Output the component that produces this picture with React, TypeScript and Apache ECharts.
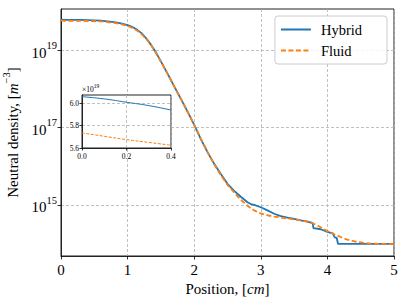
import React, { useEffect, useRef } from "react";
import * as echarts from "echarts";

// Position [cm] and neutral density [m^-3]
const HYBRID_X = [0, 0.1, 0.2, 0.3, 0.4, 0.6, 0.8, 0.9, 1.0, 1.05, 1.1, 1.15, 1.2, 1.25, 1.3, 1.35, 1.4, 1.45, 1.5, 1.6, 1.7, 1.8, 1.9, 2.0, 2.1, 2.2, 2.3, 2.4, 2.5, 2.6, 2.7, 2.8, 2.85, 2.9, 3.0, 3.1, 3.2, 3.3, 3.4, 3.5, 3.6, 3.7, 3.78, 3.79, 3.9, 4.0, 4.08, 4.11, 4.14, 4.16, 4.5, 5.0];
const HYBRID_N = [6.06e19, 6.04e19, 6.01e19, 5.98e19, 5.94e19, 5.75e19, 5.25e19, 4.9e19, 4.42e19, 4.07e19, 3.72e19, 3.27e19, 2.82e19, 2.29e19, 1.82e19, 1.38e19, 1.02e19, 7.3e18, 5.1e18, 2.45e18, 1.15e18, 5.5e17, 2.57e17, 1.17e17, 5.0e16, 2.3e16, 1.15e16, 6.3e15, 3.5e15, 2.3e15, 1.62e15, 1.17e15, 1.05e15, 1.0e15, 8.7e14, 7.2e14, 5.9e14, 5.1e14, 4.7e14, 4.35e14, 4.0e14, 3.7e14, 3.4e14, 2.5e14, 2.35e14, 2.0e14, 1.85e14, 1.45e14, 1.4e14, 9.8e13, 9.8e13, 9.8e13];

const FLUID_X = [0, 0.1, 0.2, 0.3, 0.4, 0.6, 0.8, 0.9, 1.0, 1.05, 1.1, 1.15, 1.2, 1.25, 1.3, 1.35, 1.4, 1.45, 1.5, 1.6, 1.7, 1.8, 1.9, 2.0, 2.1, 2.2, 2.3, 2.4, 2.5, 2.6, 2.7, 2.8, 2.9, 3.0, 3.1, 3.2, 3.4, 3.6, 3.74, 3.85, 3.94, 4.0, 4.1, 4.2, 4.3, 4.45, 4.65, 5.0];
const FLUID_N = [5.735e19, 5.705e19, 5.675e19, 5.65e19, 5.625e19, 5.5e19, 5.0e19, 4.68e19, 4.2e19, 3.88e19, 3.52e19, 3.1e19, 2.67e19, 2.2e19, 1.76e19, 1.34e19, 9.9e18, 7.1e18, 5.0e18, 2.42e18, 1.15e18, 5.5e17, 2.57e17, 1.17e17, 5.1e16, 2.35e16, 1.12e16, 5.9e15, 3.3e15, 2.1e15, 1.35e15, 9.5e14, 7.2e14, 6.0e14, 5.4e14, 5.0e14, 4.45e14, 4.0e14, 3.6e14, 2.95e14, 2.4e14, 2.1e14, 1.75e14, 1.48e14, 1.26e14, 1.1e14, 1.0e14, 9.7e13];

const X_TICKS = [0, 1, 2, 3, 4, 5];
const Y_TICK_EXPONENTS = [15, 17, 19];
const INSET_X_TICKS = [0, 0.2, 0.4];
const INSET_Y_TICKS = [5.6, 5.8, 6.0];
const INSET_SCALE_EXP = 19;
const SERIES_NAMES = ["Hybrid", "Fluid"];

const BLUE = "#1f77b4";
const ORANGE = "#ff7f0e";
const SERIF = "Liberation Serif";
const FS = 15;

export default function App() {
  const ref = useRef<HTMLDivElement>(null);
  useEffect(() => {
    if (!ref.current) return;
    const chart = echarts.init(ref.current, null, { renderer: "svg" });
    const hyb = HYBRID_X.map((x, i) => [x, Math.log10(HYBRID_N[i])]);
    const flu = FLUID_X.map((x, i) => [x, Math.log10(FLUID_N[i])]);
    const scale = Math.pow(10, INSET_SCALE_EXP);
    const insetMax = INSET_X_TICKS[INSET_X_TICKS.length - 1];
    const hybIn = HYBRID_X.map((x, i) => [x, HYBRID_N[i] / scale]).filter((p) => p[0] <= insetMax);
    const fluIn = FLUID_X.map((x, i) => [x, FLUID_N[i] / scale]).filter((p) => p[0] <= insetMax);

    const grid = { lineStyle: { color: "#b0b0b0", width: 0.8, type: [3, 2] as any } };
    const tick = { lineStyle: { color: "#000", width: 0.8 }, length: 3.5, inside: false };

    chart.setOption({
      animation: false,
      backgroundColor: "#fff",
      textStyle: { fontFamily: SERIF },
      grid: [
        { left: 61, right: 13, top: 9, bottom: 49, show: true, borderColor: "#222", borderWidth: 1, backgroundColor: "transparent", outerBoundsMode: "none", containLabel: false },
        { left: 82, top: 95, width: 89, height: 53, show: true, borderColor: "#222", borderWidth: 1, backgroundColor: "#fff", z: 10, outerBoundsMode: "none", containLabel: false },
      ],
      legend: {
        data: SERIES_NAMES,
        orient: "vertical",
        right: 20,
        top: 16,
        itemWidth: 30,
        itemHeight: 12,
        itemGap: 6,
        padding: [6, 25, 6, 5],
        backgroundColor: "rgba(255,255,255,0.85)",
        borderColor: "#ccc",
        borderWidth: 1,
        borderRadius: 3,
        itemStyle: { opacity: 0 },
        textStyle: { fontFamily: SERIF, fontSize: 14.5, color: "#000", padding: [0, 0, 0, 5] },
        z: 20,
      },
      xAxis: [
        {
          type: "value", gridIndex: 0, min: X_TICKS[0], max: X_TICKS[X_TICKS.length - 1], interval: 1,
          name: "Position, [{i|cm}]", nameLocation: "middle", nameGap: 24,
          nameTextStyle: { fontFamily: SERIF, fontSize: FS, color: "#000", rich: { i: { fontFamily: SERIF, fontSize: FS, fontStyle: "italic" } } },
          axisLine: { show: true, lineStyle: { color: "#222", width: 1 } },
          axisTick: tick,
          axisLabel: { fontFamily: SERIF, fontSize: FS, color: "#000", margin: 6 },
          splitLine: { show: true, ...grid },
        },
        {
          type: "value", gridIndex: 1, min: 0, max: insetMax, interval: 0.2, z: 11,
          axisLine: { show: true, lineStyle: { color: "#222", width: 1 } },
          axisTick: { ...tick, length: 2.5 },
          axisLabel: { fontFamily: SERIF, fontSize: 7.5, color: "#000", margin: 4, formatter: (v: number) => v.toFixed(1) },
          splitLine: { show: true, ...grid },
        },
      ],
      yAxis: [
        {
          type: "value", gridIndex: 0, min: 13.68, max: 20.06,
          name: "{n|Neutral density, [}{i|m}{s|−3}{n|]}", nameLocation: "middle", nameGap: 36, nameRotate: 90,
          nameTextStyle: {
            fontFamily: SERIF, fontSize: FS, color: "#000",
            rich: {
              n: { fontFamily: SERIF, fontSize: FS, lineHeight: 20, verticalAlign: "bottom" },
              i: { fontFamily: SERIF, fontSize: FS, fontStyle: "italic", lineHeight: 20, verticalAlign: "bottom" },
              s: { fontFamily: SERIF, fontSize: 10.5, lineHeight: 10, verticalAlign: "top" },
            },
          },
          axisLine: { show: true, lineStyle: { color: "#222", width: 1 } },
          axisTick: { ...tick, customValues: Y_TICK_EXPONENTS },
          axisLabel: {
            customValues: Y_TICK_EXPONENTS, margin: 4, color: "#000", fontFamily: SERIF,
            formatter: (v: number) => `{b|10}{s|${Math.round(v)}}`,
            rich: {
              b: { fontFamily: SERIF, fontSize: FS, lineHeight: 20, verticalAlign: "bottom" },
              s: { fontFamily: SERIF, fontSize: 10.5, lineHeight: 10, verticalAlign: "top" },
            },
          },
          splitLine: { show: true, ...grid },
        },
        {
          type: "value", gridIndex: 1, min: 5.6, max: 6.075, z: 11,
          axisLine: { show: true, lineStyle: { color: "#222", width: 1 } },
          axisTick: { ...tick, length: 2.5, customValues: INSET_Y_TICKS },
          axisLabel: { customValues: INSET_Y_TICKS, fontFamily: SERIF, fontSize: 7.5, color: "#000", margin: 3, formatter: (v: number) => v.toFixed(1) },
          splitLine: { show: true, ...grid },
        },
      ],
      graphic: [
        {
          type: "text", left: 82, top: 83, z: 30,
          style: {
            text: `{a|×10}{b|${INSET_SCALE_EXP}}`,
            rich: {
              a: { fontFamily: SERIF, fontSize: 7.5, fill: "#000", lineHeight: 10, verticalAlign: "bottom" },
              b: { fontFamily: SERIF, fontSize: 5.5, fill: "#000", lineHeight: 6, verticalAlign: "top" },
            },
          },
        },
      ],
      series: [
        { name: SERIES_NAMES[0], type: "line", xAxisIndex: 0, yAxisIndex: 0, data: hyb, showSymbol: false, symbol: "none", lineStyle: { color: BLUE, width: 1.8 }, itemStyle: { color: BLUE }, z: 3 },
        { name: SERIES_NAMES[1], type: "line", xAxisIndex: 0, yAxisIndex: 0, data: flu, showSymbol: false, symbol: "none", lineStyle: { color: ORANGE, width: 1.8, type: [5, 2.5] }, itemStyle: { color: ORANGE }, z: 4 },
        { name: "inset-h", type: "line", xAxisIndex: 1, yAxisIndex: 1, data: hybIn, showSymbol: false, symbol: "none", smooth: true, lineStyle: { color: BLUE, width: 1 }, itemStyle: { color: BLUE }, z: 12 },
        { name: "inset-f", type: "line", xAxisIndex: 1, yAxisIndex: 1, data: fluIn, showSymbol: false, symbol: "none", smooth: true, lineStyle: { color: ORANGE, width: 1, type: [3, 1.5] }, itemStyle: { color: ORANGE }, z: 12 },
      ],
    });
    return () => chart.dispose();
  }, []);
  return <div ref={ref} style={{ width: 407, height: 305, position: "absolute", left: 0, top: 0 }} />;
}
